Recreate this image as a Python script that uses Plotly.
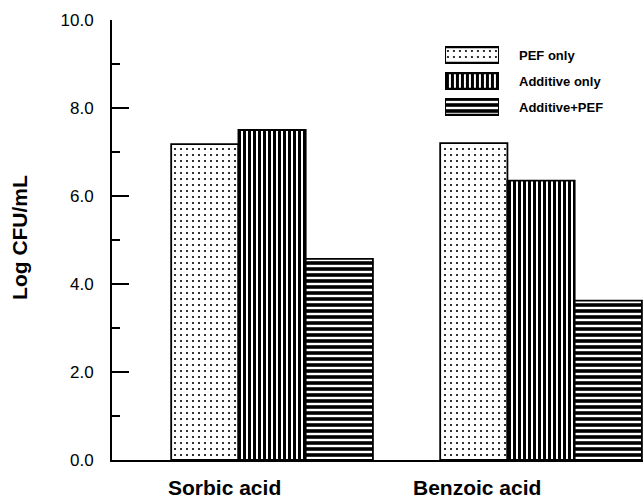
import plotly.graph_objects as go

categories = ["Sorbic acid", "Benzoic acid"]
series_names = ["PEF only", "Additive only", "Additive+PEF"]
pef_only = [7.18, 7.20]
additive_only = [7.50, 6.35]
additive_pef = [4.57, 3.62]
y_tick_vals = [0, 2, 4, 6, 8, 10]
y_tick_text = ["0.0", "2.0", "4.0", "6.0", "8.0", "10.0"]

series_values = [pef_only, additive_only, additive_pef]
patterns = [
    dict(shape=".", size=6, solidity=0.1),
    dict(shape="|", size=5, solidity=0.6),
    dict(shape="-", size=6, solidity=0.6),
]

FONT = "Liberation Sans, Arial, Helvetica, sans-serif"

fig = go.Figure()
for name, vals, pat in zip(series_names, series_values, patterns):
    fig.add_trace(go.Bar(
        x=categories, y=vals, name=name, showlegend=False,
        marker=dict(color="white",
                    line=dict(color="black", width=1.8),
                    pattern=dict(fgcolor="black", bgcolor="white",
                                 fillmode="replace", **pat)),
        xaxis="x", yaxis="y",
    ))

# legend swatches drawn as bars on a small overlay axis
for i, (name, pat) in enumerate(zip(series_names, patterns)):
    fig.add_trace(go.Bar(
        x=[1], y=[i], base=0, orientation="h", width=0.6, showlegend=False,
        marker=dict(color="white",
                    line=dict(color="black", width=2.2),
                    pattern=dict(fgcolor="black", bgcolor="white",
                                 fillmode="replace", **pat)),
        xaxis="x2", yaxis="y2", hoverinfo="skip",
    ))
    fig.add_annotation(
        text="<b>%s</b>" % name, xref="paper", yref="y2", x=0.763, y=i,
        xanchor="left", yanchor="middle", showarrow=False,
        font=dict(family=FONT, size=13, color="black"),
    )

# category labels
label_shifts = [-48, -64]
for cat, sh in zip(categories, label_shifts):
    fig.add_annotation(
        text="<b>%s</b>" % cat, xref="x", yref="paper", x=cat, y=0,
        xanchor="center", yanchor="top", yshift=-14, xshift=sh,
        showarrow=False, font=dict(family=FONT, size=21, color="black"),
    )

# y-axis title
fig.add_annotation(
    text="<b>Log CFU/mL</b>", xref="paper", yref="paper", x=-0.173, y=0.505,
    xanchor="center", yanchor="middle", textangle=-90, showarrow=False,
    font=dict(family=FONT, size=21, color="black"),
)

fig.update_layout(
    width=643, height=499,
    margin=dict(l=112, r=0, t=20, b=39),
    paper_bgcolor="white", plot_bgcolor="white",
    barmode="group", bargap=0.25, bargroupgap=0,
    font=dict(family=FONT, color="black"),
    xaxis=dict(
        type="category", range=[-0.595, 1.379],
        showline=True, linecolor="black", linewidth=2,
        showticklabels=False, ticks="", showgrid=False, zeroline=False,
    ),
    yaxis=dict(
        range=[0, 10], tickvals=y_tick_vals, ticktext=y_tick_text,
        showline=True, linecolor="black", linewidth=2,
        ticks="inside", ticklen=17, tickwidth=2, tickcolor="black",
        minor=dict(ticks="inside", ticklen=8, tickwidth=2, tickcolor="black", dtick=1),
        ticklabelstandoff=13,
        tickfont=dict(family=FONT, size=17, color="black"),
        showgrid=False, zeroline=False,
    ),
    xaxis2=dict(domain=[0.627, 0.729], range=[0, 1], anchor="y2",
                visible=False, fixedrange=True),
    yaxis2=dict(domain=[0.7727, 0.95], range=[2.5, -0.5], anchor="x2",
                visible=False, fixedrange=True),
)

fig.write_html("out.html")
